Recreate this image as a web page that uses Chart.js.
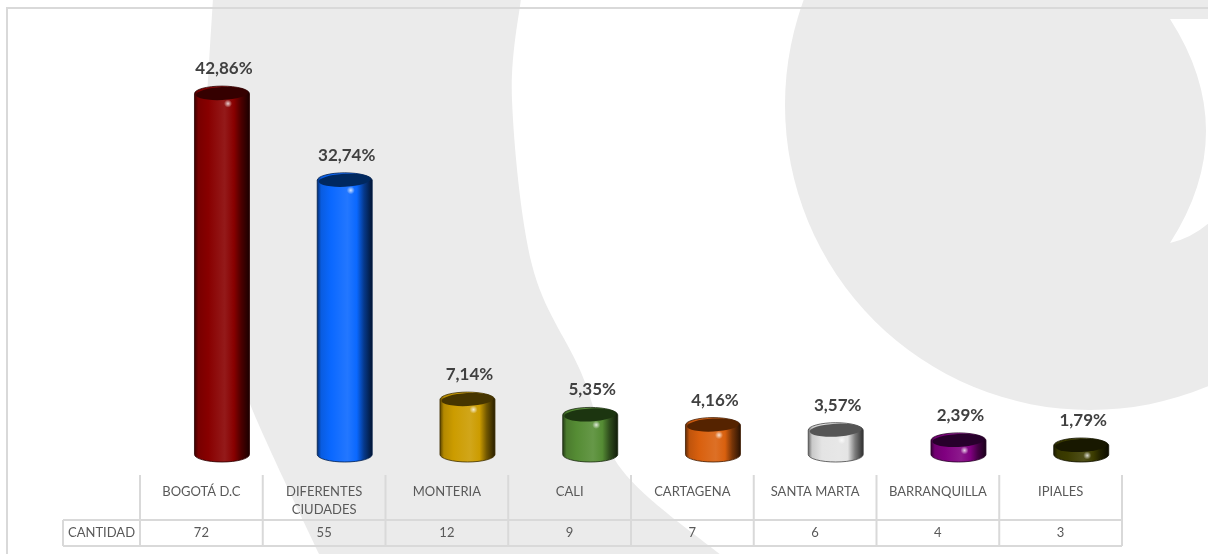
<!DOCTYPE html>
<html>
<head>
<meta charset="utf-8">
<script src="https://cdn.jsdelivr.net/npm/chart.js@4.4.0/dist/chart.umd.min.js"></script>
<style>
  html, body { margin: 0; padding: 0; background: #fff; }
  canvas { display: block; }
</style>
</head>
<body>
<canvas id="myChart" width="1208" height="554"></canvas>
<script>
// datos
const ciudades = ['BOGOTÁ D.C', ['DIFERENTES', 'CIUDADES'], 'MONTERIA', 'CALI', 'CARTAGENA', 'SANTA MARTA', 'BARRANQUILLA', 'IPIALES'];
const cantidad = [72, 55, 12, 9, 7, 6, 4, 3];
const porcentajes = ['42,86%', '32,74%', '7,14%', '5,35%', '4,16%', '3,57%', '2,39%', '1,79%'];
const filaTitulo = 'CANTIDAD';

// colores de los cilindros
const coloresCuerpo = ['#880000', '#0a68ff', '#cc9c00', '#558c34', '#d9600e', '#e4e4e4', '#800080', '#3c3c00'];
const coloresTapa = ['#350000', '#00285f', '#463500', '#1c3510', '#552300', '#555555', '#28002c', '#181800'];

const shade = (hex, f) => {
	let r = parseInt(hex.substr(1, 2), 16), g = parseInt(hex.substr(3, 2), 16), b = parseInt(hex.substr(5, 2), 16);
	const t = f < 0 ? 0 : 255, p = Math.abs(f);
	r = Math.round((t - r) * p + r); g = Math.round((t - g) * p + g); b = Math.round((t - b) * p + b);
	return 'rgb(' + r + ',' + g + ',' + b + ')';
};

// curva suave por puntos (catmull-rom)
const spline = (ctx, pts) => {
	for (let i = 0; i < pts.length - 1; i++) {
		const p0 = pts[i - 1] || pts[i], p1 = pts[i], p2 = pts[i + 1], p3 = pts[i + 2] || p2;
		ctx.bezierCurveTo(p1[0] + (p2[0] - p0[0]) / 6, p1[1] + (p2[1] - p0[1]) / 6,
			p2[0] - (p3[0] - p1[0]) / 6, p2[1] - (p3[1] - p1[1]) / 6, p2[0], p2[1]);
	}
};

const fondo = {
	id: 'fondo',
	beforeDraw(chart) {
		const ctx = chart.ctx;
		ctx.save();
		ctx.fillStyle = '#ffffff';
		ctx.fillRect(0, 0, chart.width, chart.height);
		ctx.fillStyle = '#ebebeb';
		// banda izquierda
		const izq = [[213, -2], [205, 140], [205, 230], [216, 300], [250, 404], [320, 556]];
		const der = [[722, 556], [622, 470], [580, 370], [532, 265], [512, 100], [521, -2]];
		ctx.beginPath();
		ctx.moveTo(izq[0][0], izq[0][1]);
		spline(ctx, izq);
		ctx.lineTo(der[0][0], der[0][1]);
		spline(ctx, der);
		ctx.closePath();
		ctx.fill();
		// circulo derecho
		ctx.beginPath();
		ctx.arc(1090, 105, 305, 0, Math.PI * 2);
		ctx.fill();
		ctx.fillStyle = '#ffffff';
		ctx.beginPath();
		ctx.moveTo(1170, 19);
		ctx.lineTo(1210, 19);
		ctx.lineTo(1210, 222);
		ctx.quadraticCurveTo(1192, 238, 1170, 243);
		ctx.quadraticCurveTo(1242, 131, 1170, 19);
		ctx.fill();
		// borde
		ctx.strokeStyle = '#d9d9d9';
		ctx.lineWidth = 2;
		ctx.beginPath();
		ctx.moveTo(1210, 8);
		ctx.lineTo(7, 8);
		ctx.lineTo(7, 556);
		ctx.stroke();
		ctx.restore();
	}
};

const drawCylinder = (ctx, cx, top, bottom, w, body, cap) => {
	const rx = w / 2;
	const ry = Math.min(7.5, (bottom - top) / 3.2);
	const capY = top + ry, baseY = bottom - ry;
	const g = ctx.createLinearGradient(cx - rx, 0, cx + rx, 0);
	g.addColorStop(0, shade(body, -0.55));
	g.addColorStop(0.07, shade(body, -0.12));
	g.addColorStop(0.25, body);
	g.addColorStop(0.55, shade(body, 0.1));
	g.addColorStop(0.72, body);
	g.addColorStop(0.85, shade(body, -0.45));
	g.addColorStop(1, shade(body, -0.8));
	ctx.beginPath();
	ctx.moveTo(cx - rx, capY);
	ctx.lineTo(cx - rx, baseY);
	ctx.ellipse(cx, baseY, rx, ry, 0, Math.PI, 0, true);
	ctx.lineTo(cx + rx, capY);
	ctx.ellipse(cx, capY, rx, ry, 0, 0, Math.PI, true);
	ctx.closePath();
	ctx.fillStyle = g;
	ctx.fill();
	ctx.strokeStyle = shade(body, -0.7);
	ctx.lineWidth = 0.8;
	ctx.stroke();
	// tapa
	ctx.beginPath();
	ctx.ellipse(cx, capY, rx - 1.5, ry - 1, -0.05, 0, Math.PI * 2);
	ctx.fillStyle = cap;
	ctx.fill();
	// brillo
	const hx = cx + rx * 0.22, hy = capY + ry + 2.5;
	const rg = ctx.createRadialGradient(hx, hy, 0, hx, hy, 4);
	rg.addColorStop(0, 'rgba(255,255,255,0.8)');
	rg.addColorStop(1, 'rgba(255,255,255,0)');
	ctx.fillStyle = rg;
	ctx.fillRect(hx - 5, hy - 5, 10, 10);
};

const cilindros = {
	id: 'cilindros',
	afterDatasetsDraw(chart) {
		const ctx = chart.ctx;
		const meta = chart.getDatasetMeta(0);
		ctx.save();
		meta.data.forEach((bar, i) => {
			const cx = bar.x + 20.6;
			drawCylinder(ctx, cx, bar.y, bar.base + 8.7, bar.width, coloresCuerpo[i], coloresTapa[i]);
			ctx.font = 'bold 17px Lato';
			ctx.fillStyle = '#404040';
			ctx.textAlign = 'center';
			ctx.textBaseline = 'alphabetic';
			ctx.fillText(porcentajes[i], cx + 2, bar.y - 12);
		});
		ctx.restore();
	}
};

const tabla = {
	id: 'tabla',
	afterDraw(chart) {
		const ctx = chart.ctx, area = chart.chartArea, xs = chart.scales.x;
		const n = ciudades.length;
		const colW = (area.right - area.left) / n;
		const headTop = 475, rowTop = 520, rowBot = 546, labLeft = 63;
		ctx.save();
		ctx.strokeStyle = '#d9d9d9';
		ctx.lineWidth = 2;
		ctx.beginPath();
		ctx.moveTo(labLeft, rowTop); ctx.lineTo(area.right, rowTop);
		ctx.moveTo(labLeft, rowBot); ctx.lineTo(area.right, rowBot);
		ctx.moveTo(labLeft, rowTop); ctx.lineTo(labLeft, rowBot);
		for (let i = 0; i <= n; i++) {
			const x = area.left + i * colW;
			ctx.moveTo(x, headTop); ctx.lineTo(x, rowBot);
		}
		ctx.stroke();
		ctx.font = '13px Lato';
		ctx.fillStyle = '#595959';
		ctx.textAlign = 'center';
		ctx.textBaseline = 'middle';
		ciudades.forEach((c, i) => {
			const x = xs.getPixelForValue(i);
			const lines = Array.isArray(c) ? c : [c];
			lines.forEach((l, k) => ctx.fillText(l, x, 492 + k * 18));
			ctx.fillText(String(cantidad[i]), x, 533);
		});
		ctx.fillText(filaTitulo, (labLeft + area.left) / 2, 533);
		ctx.restore();
	}
};

Chart.defaults.font.family = 'Lato';

const ctx = document.getElementById('myChart').getContext('2d');
const myChart = new Chart(ctx, {
	type: 'bar',
	data: {
		labels: ciudades,
		datasets: [{
			label: filaTitulo,
			data: cantidad,
			backgroundColor: 'rgba(0,0,0,0)',
			borderWidth: 0,
			barPercentage: 1,
			categoryPercentage: 0.448
		}]
	},
	options: {
		responsive: false,
		devicePixelRatio: 1,
		animation: false,
		layout: {
			padding: { left: 140, right: 86, top: 45.3, bottom: 100.7 }
		},
		plugins: {
			legend: { display: false },
			tooltip: { enabled: false },
			title: { display: false }
		},
		scales: {
			x: { display: false, offset: true, grid: { display: false } },
			y: { display: false, min: 0, max: 80, grid: { display: false } }
		}
	},
	plugins: [fondo, cilindros, tabla]
});
</script>
</body>
</html>
